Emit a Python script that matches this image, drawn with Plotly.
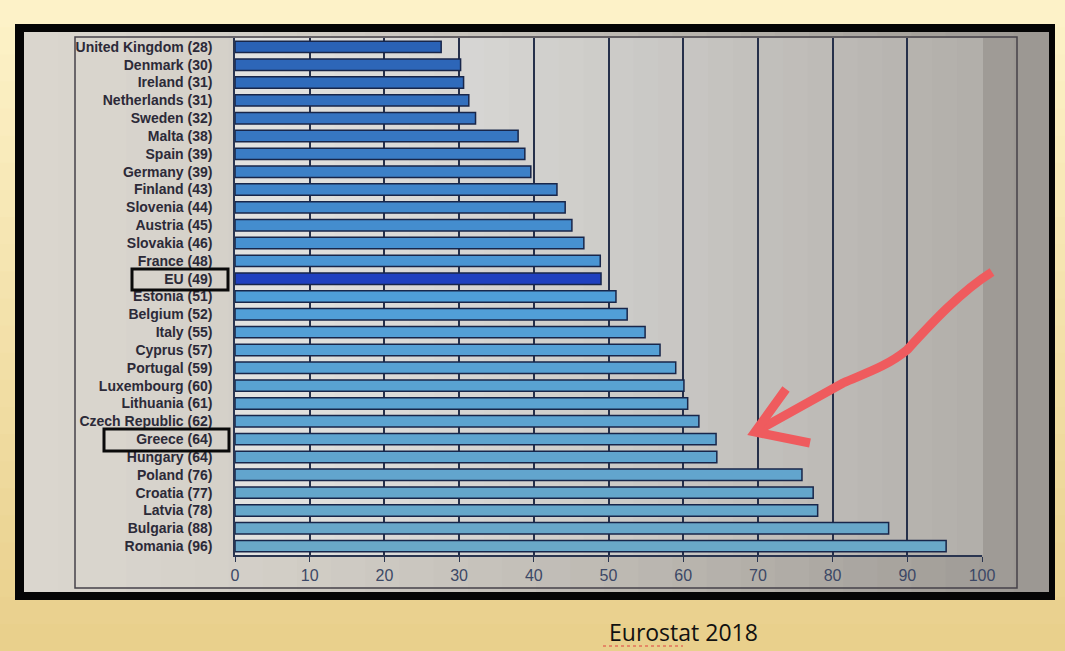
import plotly.graph_objects as go

# data
countries = [
    "United Kingdom", "Denmark", "Ireland", "Netherlands", "Sweden", "Malta",
    "Spain", "Germany", "Finland", "Slovenia", "Austria", "Slovakia", "France",
    "EU", "Estonia", "Belgium", "Italy", "Cyprus", "Portugal", "Luxembourg",
    "Lithuania", "Czech Republic", "Greece", "Hungary", "Poland", "Croatia",
    "Latvia", "Bulgaria", "Romania",
]
label_values = [28, 30, 31, 31, 32, 38, 39, 39, 43, 44, 45, 46, 48, 49, 51, 52,
                55, 57, 59, 60, 61, 62, 64, 64, 76, 77, 78, 88, 96]
bar_values = [27.6, 30.2, 30.6, 31.3, 32.2, 37.9, 38.8, 39.6, 43.1, 44.2, 45.1,
              46.7, 48.9, 49.0, 51.0, 52.5, 54.9, 56.9, 59.0, 60.1, 60.6, 62.1,
              64.4, 64.5, 75.9, 77.4, 78.0, 87.5, 95.2]
x_ticks = [0, 10, 20, 30, 40, 50, 60, 70, 80, 90, 100]

labels = [f"{c} ({v})" for c, v in zip(countries, label_values)]

W, H = 1065, 651
L, R, T, B = 235, 83, 38, 96
PW, PH = W - L - R, H - T - B


def px(x):
    return (x - L) / PW


def py(y):
    return 1 - (y - T) / PH


def mix(c1, c2, t):
    a = [int(c1[i:i + 2], 16) for i in (1, 3, 5)]
    b = [int(c2[i:i + 2], 16) for i in (1, 3, 5)]
    return "#" + "".join(f"{round(p + (q - p) * t):02x}" for p, q in zip(a, b))


# bar colours: darker blue at top, pale teal-blue at bottom, EU highlighted
n = len(countries)
colors = []
for i, c in enumerate(countries):
    t = i / (n - 1)
    if t < 0.5:
        col = mix("#2a62b6", "#4f9ed8", t / 0.5)
    else:
        col = mix("#4f9ed8", "#6aa8c8", (t - 0.5) / 0.5)
    colors.append("#1f40bf" if c == "EU" else col)

fig = go.Figure()
fig.add_trace(go.Bar(
    x=bar_values,
    y=labels,
    orientation='h',
    width=0.64,
    marker=dict(color=colors, line=dict(color='#18264a', width=1.5)),
    hoverinfo='x+y',
))

shapes = []

# slide background (cream gradient)
bands = 24
for i in range(bands):
    y0 = H * i / bands
    y1 = H * (i + 1) / bands + 1
    shapes.append(dict(type='rect', xref='paper', yref='paper', layer='below',
                       x0=px(0), x1=px(W), y0=py(y0), y1=py(y1),
                       fillcolor=mix("#fdf2c8", "#e9d08c", i / (bands - 1)),
                       line=dict(width=0)))

# black photo frame
shapes.append(dict(type='rect', xref='paper', yref='paper', layer='below',
                   x0=px(15), x1=px(1055), y0=py(24), y1=py(600),
                   fillcolor='#050505', line=dict(width=0)))

# photo surface, lighter on the left and darker to the right
cols = 30
for i in range(cols):
    x0 = 24 + (1048 - 24) * i / cols
    x1 = 24 + (1048 - 24) * (i + 1) / cols + 1
    t = i / (cols - 1)
    shapes.append(dict(type='rect', xref='paper', yref='paper', layer='below',
                       x0=px(x0), x1=px(x1), y0=py(32), y1=py(592),
                       fillcolor=mix("#dad6ce", "#9c9893", t ** 1.4),
                       line=dict(width=0)))

# chart outer border inside the photo
shapes.append(dict(type='rect', xref='paper', yref='paper', layer='below',
                   x0=px(75), x1=px(1017), y0=py(37), y1=py(588),
                   line=dict(color='#46424a', width=1.5)))

# plot area, light on the left fading to grey
for i in range(cols):
    x0 = L + PW * i / cols
    x1 = L + PW * (i + 1) / cols + 1
    t = i / (cols - 1)
    shapes.append(dict(type='rect', xref='paper', yref='paper', layer='below',
                       x0=px(x0), x1=px(x1), y0=0, y1=1,
                       fillcolor=mix("#e2e2e0", "#b2afaa", t ** 1.2),
                       line=dict(width=0)))

# boxes around EU and Greece labels
for x0, y0, x1, y1 in [(132, 269, 228, 290), (104, 429, 229, 451)]:
    shapes.append(dict(type='rect', xref='paper', yref='paper',
                       x0=px(x0), x1=px(x1), y0=py(y0), y1=py(y1),
                       line=dict(color='#0a0a0a', width=3)))

# hand-drawn red arrow
arrow = (f"M {px(992)},{py(272)} C {px(960)},{py(292)} {px(930)},{py(325)} {px(907)},{py(350)} "
         f"C {px(885)},{py(368)} {px(860)},{py(375)} {px(843)},{py(383)} "
         f"L {px(755)},{py(432)}")
head = f"M {px(786)},{py(389)} L {px(755)},{py(432)} L {px(810)},{py(443)}"
for path in (arrow, head):
    shapes.append(dict(type='path', xref='paper', yref='paper', path=path,
                       line=dict(color='#ef5b5e', width=9)))

# spell-check squiggle under "Eurostat"
shapes.append(dict(type='line', xref='paper', yref='paper',
                   x0=px(603), x1=px(683), y0=py(646), y1=py(646),
                   line=dict(color='#e04040', width=1, dash='dot')))

fig.update_layout(
    width=W, height=H,
    margin=dict(l=L, r=R, t=T, b=B),
    paper_bgcolor='#f4e4ac',
    plot_bgcolor='rgba(0,0,0,0)',
    showlegend=False,
    shapes=shapes,
    annotations=[dict(
        text="Eurostat 2018", xref='paper', yref='paper',
        x=px(683), y=py(632), xanchor='center', yanchor='middle',
        showarrow=False, font=dict(family='Open Sans', size=23, color='#111111'),
    )],
    xaxis=dict(
        range=[0, 100], tickvals=x_ticks, ticks='outside', ticklen=5,
        tickcolor='#2a3550', showgrid=True, gridcolor='#26304a', gridwidth=2,
        showline=True, linecolor='#2a3550', linewidth=1.5, zeroline=False,
        tickfont=dict(family='Liberation Sans', size=16, color='#3c4866'),
    ),
    yaxis=dict(
        autorange='reversed', showgrid=False, showline=True,
        linecolor='#2a3550', linewidth=1.5, ticks='', ticklabelstandoff=18,
        tickfont=dict(family='Liberation Sans', size=14, color='#2c2a38',
                      weight='bold'),
    ),
)

# drop the browser's default body margin so the figure fills the window
fig.write_html("out.html", config={'displayModeBar': False},
               post_script="document.body.style.margin='0';")
